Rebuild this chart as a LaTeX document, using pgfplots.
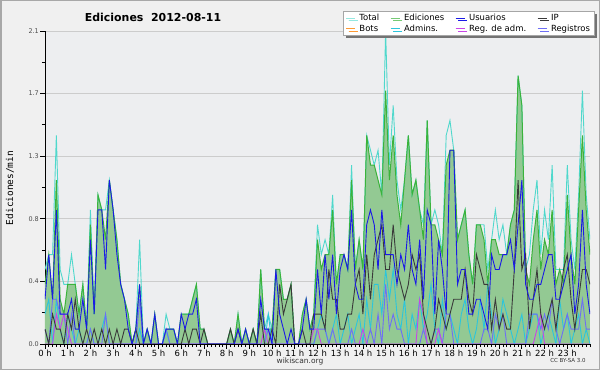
\documentclass[border=0pt]{standalone}
\usepackage{pgfplots}
\pgfplotsset{compat=1.18}
\usepackage{pgfplotstable}
\usepackage{fontspec}
\setmainfont{DejaVu Sans}
\newfontfamily\monofont{DejaVu Sans Mono}
\usetikzlibrary{shadows}
\definecolor{outerbg}{HTML}{F0F0F0}
\definecolor{plotbg}{HTML}{EDEEF0}
\definecolor{framec}{HTML}{A8A8A8}
\definecolor{greenfill}{HTML}{93C993}
\definecolor{greenline}{HTML}{3BB33B}
\definecolor{totalc}{HTML}{4FD8CC}
\definecolor{usuc}{HTML}{1A1AE6}
\definecolor{ipc}{HTML}{3A3A3A}
\definecolor{adminc}{HTML}{2CC5DC}
\definecolor{regc}{HTML}{6E6EF5}
\definecolor{regadmc}{HTML}{C845E8}
\definecolor{botc}{HTML}{FF9A33}

\pgfplotstableread{
i E T U IP A M R
0 0.4 0.5 0.3 0.1 0.2 0 0.1
1 0.6 0.6 0.6 0 0.3 0 0
2 0.3 0.6 0.3 0.2 0 0 0.3
3 1.1 1.4 0.9 0.1 0.3 0.2 0.3
4 0.3 0.5 0.2 0.1 0.1 0.1 0.2
5 0.2 0.4 0.2 0 0 0.2 0.2
6 0.4 0.4 0.2 0.2 0.2 0.1 0
7 0.4 0.6 0.3 0.1 0.1 0 0.2
8 0.4 0.4 0.1 0.3 0 0 0
9 0.2 0.2 0.1 0.1 0.1 0 0
10 0.4 0.4 0.3 0 0 0 0
11 0.1 0.1 0.1 0.1 0 0 0
12 0.8 0.9 0.7 0 0.1 0 0.1
13 0.2 0.2 0.2 0.1 0 0 0
14 1.0 1.0 0.9 0 0 0 0
15 0.9 0.9 0.9 0.1 0.1 0 0
16 0.7 0.9 0.5 0 0.2 0 0.2
17 1.1 1.1 1.1 0.1 0 0 0
18 0.9 0.9 0.9 0 0 0 0
19 0.7 0.7 0.6 0.1 0 0 0
20 0.4 0.4 0.4 0 0 0 0
21 0.3 0.3 0.3 0.1 0 0 0
22 0.2 0.2 0.1 0.1 0 0 0
23 0 0 0 0 0 0 0
24 0.1 0.1 0.1 0.1 0 0 0
25 0.4 0.7 0.4 0 0.1 0 0.3
26 0 0 0 0 0 0 0
27 0.1 0.1 0.1 0 0 0 0
28 0 0 0 0 0 0 0
29 0.2 0.2 0.2 0 0 0 0
30 0 0 0 0 0 0 0
31 0 0 0 0 0 0 0
32 0.1 0.2 0.1 0 0.1 0 0.1
33 0.1 0.1 0.1 0 0 0 0
34 0.1 0.1 0.1 0 0 0 0
35 0 0 0 0 0 0 0
36 0.2 0.2 0.2 0 0 0 0
37 0.2 0.2 0.1 0.1 0 0 0
38 0.2 0.2 0.2 0 0 0 0
39 0.3 0.3 0.2 0.1 0 0 0
40 0.4 0.4 0.3 0.1 0 0 0
41 0.1 0.1 0 0 0 0 0
42 0.1 0.1 0 0.1 0 0 0
43 0 0 0 0 0 0 0
44 0 0 0 0 0 0 0
45 0 0 0 0 0 0 0
46 0 0 0 0 0 0 0
47 0 0 0 0 0 0 0
48 0 0 0 0 0 0 0
49 0.1 0.1 0 0.1 0 0 0
50 0 0 0 0 0 0 0
51 0.2 0.2 0.1 0.1 0 0 0
52 0 0 0 0 0 0 0
53 0.1 0.1 0.1 0 0 0 0
54 0 0 0 0 0 0 0
55 0.1 0.1 0 0.1 0 0 0
56 0 0 0 0 0 0 0
57 0.5 0.5 0.3 0.2 0 0 0
58 0.1 0.1 0.1 0 0 0.1 0
59 0.1 0.2 0.1 0 0.2 0 0.1
60 0.1 0.1 0 0.1 0 0 0
61 0.5 0.5 0.5 0 0 0 0
62 0.5 0.5 0.2 0.4 0 0 0
63 0.3 0.3 0.1 0.2 0 0 0
64 0.3 0.3 0 0.3 0 0 0
65 0.4 0.4 0.1 0.4 0 0 0
66 0 0 0 0 0 0 0
67 0 0 0 0 0 0 0
68 0.2 0.2 0.1 0.1 0 0 0
69 0.3 0.3 0.3 0 0 0 0
70 0.1 0.1 0.1 0 0 0 0
71 0.2 0.2 0.1 0.2 0 0.1 0
72 0.7 0.8 0.5 0.2 0.1 0.1 0.1
73 0.5 0.6 0.2 0.2 0.2 0 0.1
74 0.6 0.7 0.6 0.1 0.1 0 0.1
75 0.6 0.6 0.3 0.5 0 0 0
76 0.9 1.0 0.6 0.3 0.1 0 0.1
77 0.4 0.4 0.2 0.3 0.2 0 0
78 0.6 0.6 0.5 0.1 0 0 0
79 0.6 0.6 0.6 0.1 0.1 0 0
80 0.5 0.5 0.5 0.2 0.2 0 0
81 1.1 1.2 0.9 0.2 0 0 0.1
82 0.5 0.5 0.4 0.4 0.1 0 0
83 0.7 0.7 0.3 0.5 0.2 0 0
84 0.5 0.5 0.3 0.2 0 0.1 0
85 1.4 1.4 0.8 0.6 0.3 0 0
86 1.2 1.3 0.9 0.3 0.1 0 0.1
87 1.2 1.2 0.8 0.6 0.4 0 0
88 1.1 1.3 0.5 0.7 0.4 0 0.2
89 1.0 1.0 0.9 0.8 0.2 0 0
90 1.7 2.1 0.6 0.5 0.5 0 0.4
91 1.1 1.2 0.6 0.5 0.3 0 0.1
92 1.4 1.6 0.6 0.8 0.5 0 0.2
93 1.0 1.1 0.4 0.5 0.2 0 0.1
94 0.8 0.9 0.6 0.4 0.1 0 0.1
95 1.1 1.1 0.5 0.3 0.3 0 0
96 1.4 1.4 0.8 0.4 0 0 0
97 1.0 1.0 0.5 0.6 0.2 0 0
98 1.1 1.1 0.4 0.5 0.1 0 0
99 0.9 0.9 0.7 0.6 0.3 0.3 0
100 0.7 0.8 0.3 0.2 0.1 0.2 0.1
101 1.5 1.5 0.9 0.1 0.2 0 0
102 0.8 0.8 0.8 0 0.4 0 0
103 0.8 0.9 0.2 0.1 0.1 0 0.1
104 0.7 0.8 0.7 0.3 0 0.1 0.1
105 0.6 0.6 0.5 0.2 0.3 0 0
106 1.2 1.4 0.2 0.1 0.1 0 0.2
107 1.3 1.5 1.3 0.2 0.2 0 0.2
108 1.3 1.3 1.3 0.3 0.1 0 0
109 0.7 0.7 0.4 0.3 0 0 0
110 0.8 0.8 0.5 0.3 0.2 0 0
111 0.9 0.9 0.5 0.5 0.3 0 0
112 0.6 0.6 0.2 0.3 0.1 0 0
113 0.4 0.4 0.2 0.2 0 0 0
114 0.8 0.8 0.3 0.6 0.1 0 0
115 0.8 0.8 0.3 0.5 0.3 0 0
116 0.7 0.8 0.2 0.4 0.1 0 0.1
117 0.4 0.5 0.1 0.4 0.4 0 0.1
118 0.7 0.7 0.6 0.1 0.2 0 0
119 0.7 0.9 0.5 0.3 0 0 0.2
120 0.6 0.7 0.5 0.1 0.1 0 0.1
121 0.6 0.8 0.6 0.2 0.3 0 0.2
122 0.6 0.6 0.6 0.1 0.2 0 0
123 0.8 0.8 0.7 0.1 0.1 0 0
124 0.9 0.9 0.5 0.5 0 0 0
125 1.8 1.8 0.8 1.1 0.1 0 0
126 1.6 1.6 1.1 0.5 0.2 0 0
127 0.5 0.5 0.4 0.6 0 0 0
128 0.4 0.6 0.3 0.1 0.1 0 0.2
129 0.7 0.9 0.3 0.3 0.2 0 0.2
130 0.9 1.1 0.4 0.5 0.2 0.1 0.2
131 0.5 0.6 0.4 0.2 0 0.2 0.1
132 0.7 0.9 0.5 0.1 0.1 0 0.2
133 0.6 0.7 0.6 0.2 0.2 0 0.1
134 0.9 1.2 0.6 0.3 0.1 0 0.3
135 0.4 0.5 0.3 0.1 0 0 0.1
136 0.5 0.5 0.3 0.3 0.3 0 0
137 0.4 0.5 0.4 0.5 0.1 0 0.1
138 1.0 1.2 0.5 0.6 0.2 0 0.2
139 0.6 0.7 0.6 0.3 0 0 0.1
140 0.4 0.5 0.2 0.1 0.1 0 0.1
141 0.9 1.0 0.4 0.3 0.2 0 0.1
142 1.4 1.7 0.9 0.5 0 0 0.3
143 0.9 1.0 0.4 0.5 0.1 0 0.1
144 0.6 0.7 0.2 0.4 0 0 0.1
}\datatab

\begin{document}
\begin{tikzpicture}
\fill[outerbg] (0bp,0bp) rectangle (600bp,370bp);
\useasboundingbox (0bp,0bp) rectangle (600bp,370bp);
\draw[framec, line width=1.5bp] (0.75bp,0.75bp) rectangle (599.25bp,369.25bp);
\node[font=\bfseries\fontsize{11}{13}\selectfont] at (153bp,353bp) {Ediciones\ \ 2012-08-11};
\node[font=\monofont\fontsize{9.5}{11}\selectfont, rotate=90] at (10bp,182bp) {Ediciones/min};
\node[font=\fontsize{7.5}{9}\selectfont, text=black!80] at (300bp,9bp) {wikiscan.org};
\node[font=\fontsize{5.5}{7}\selectfont, text=black!80] at (568bp,9bp) {CC BY-SA 3.0};
\begin{axis}[
  at={(45bp,26bp)}, anchor=south west,
  scale only axis, width=545bp, height=313bp,
  xmin=0, xmax=24, ymin=0, ymax=2.1,
  axis x line=bottom, axis y line=left,
  axis line style={-, black, line width=0.9bp},
  axis background/.style={fill=plotbg},
  xtick={0,1,...,23},
  xticklabels={0 h,1 h,2 h,3 h,4 h,5 h,6 h,7 h,8 h,9 h,10 h,11 h,12 h,13 h,14 h,15 h,16 h,17 h,18 h,19 h,20 h,21 h,22 h,23 h},
  minor xtick={0,0.1666667,...,24.01},
  ytick={0,0.42,0.84,1.26,1.68,2.1},
  yticklabels={0.0,0.4,0.8,1.3,1.7,2.1},
  minor ytick={0.21,0.63,1.05,1.47,1.89},
  tick align=outside,
  major tick length=4.5bp, minor tick length=3bp,
  every tick/.style={black, line width=0.8bp},
  ymajorgrids, grid style={draw=black!20, line width=0.7bp},
  x tick label style={font=\fontsize{8.5}{9}\selectfont, inner sep=1.5bp},
  y tick label style={font=\fontsize{6.5}{7}\selectfont, text=black!70, inner sep=1.5bp},
  legend columns=4,
  legend cell align=left,
  legend image code/.code={\draw[#1, line width=0.8bp] (0bp,0bp) -- (9bp,0bp);},
  legend style={at={(1.009,1.064)}, anchor=north east, fill=white, draw=black!35,
    line width=0.7bp, font=\fontsize{8.5}{9.5}\selectfont,
    inner xsep=2.5bp, inner ysep=1bp, row sep=-1.5bp,
    drop shadow={shadow xshift=2.5bp, shadow yshift=-2.5bp, fill=black!55, opacity=1},
    /tikz/every odd column/.append style={column sep=2bp},
    /tikz/every even column/.append style={column sep=9bp}},
]
\addlegendimage{totalc!60}\addlegendentry{Total}
\addlegendimage{greenline!70}\addlegendentry{Ediciones}
\addlegendimage{usuc}\addlegendentry{Usuarios}
\addlegendimage{ipc}\addlegendentry{IP}
\addlegendimage{botc}\addlegendentry{Bots}
\addlegendimage{adminc}\addlegendentry{Admins.}
\addlegendimage{regadmc}\addlegendentry{Reg. de adm.}
\addlegendimage{regc}\addlegendentry{Registros}

\addplot[fill=greenfill, draw=none, forget plot] table[x expr=\thisrow{i}/6, y=E] {\datatab} \closedcycle;
\addplot[totalc, line width=0.9bp, mark=none, forget plot] table[x expr=\thisrow{i}/6, y=T] {\datatab};
\addplot[greenline, line width=1bp, mark=none, forget plot] table[x expr=\thisrow{i}/6, y=E] {\datatab};
\addplot[adminc, line width=0.9bp, mark=none, forget plot] table[x expr=\thisrow{i}/6, y=A] {\datatab};
\addplot[regc, line width=0.9bp, mark=none, forget plot] table[x expr=\thisrow{i}/6, y=R] {\datatab};
\addplot[regadmc, line width=0.9bp, mark=none, forget plot] table[x expr=\thisrow{i}/6, y=M] {\datatab};
\addplot[ipc, line width=0.9bp, mark=none, forget plot] table[x expr=\thisrow{i}/6, y=IP] {\datatab};
\addplot[usuc, line width=0.9bp, mark=none, forget plot] table[x expr=\thisrow{i}/6, y=U] {\datatab};
\end{axis}
\end{tikzpicture}
\end{document}
